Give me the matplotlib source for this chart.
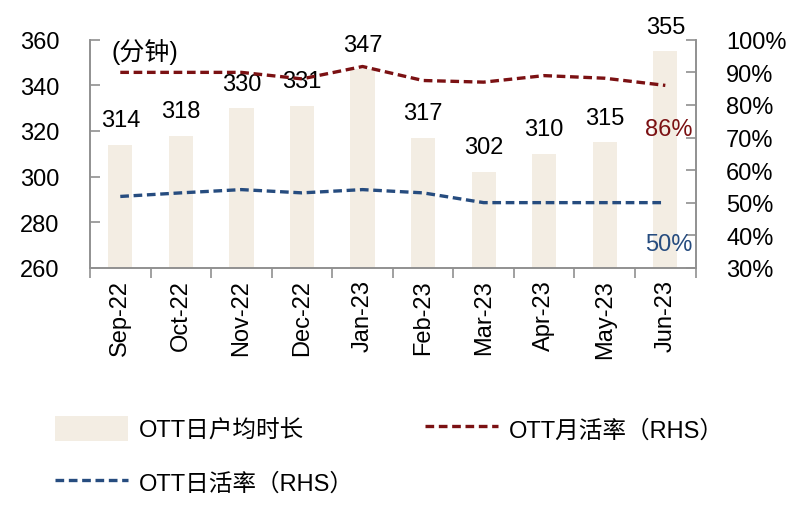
import numpy as np
import matplotlib.pyplot as plt
from matplotlib.ticker import FuncFormatter, FixedLocator

plt.rcParams['font.family'] = ['Liberation Sans', 'Noto Sans CJK SC', 'DejaVu Sans']

months = ['Sep-22', 'Oct-22', 'Nov-22', 'Dec-22', 'Jan-23', 'Feb-23',
          'Mar-23', 'Apr-23', 'May-23', 'Jun-23']
minutes = [314, 318, 330, 331, 347, 317, 302, 310, 315, 355]
mau_rate = [90, 90, 90, 88, 91.8, 87.5, 87, 89, 88.2, 86]
dau_rate = [51.9, 53, 54, 53, 54, 53, 50, 50, 50, 50]

bar_color = '#F3EDE3'
red = '#7B1113'
blue = '#264C7F'
spine_gray = '#909090'
fs = 17

fig = plt.figure(figsize=(8, 5.1), dpi=100)
ax = fig.add_axes([0.1125, 0.473, 0.757, 0.447])
ax2 = ax.twinx()

x = np.arange(len(months))
bars = ax.bar(x, minutes, width=0.4, color=bar_color, label='OTT日户均时长', zorder=1)
for xi, v in zip(x, minutes):
    ax.text(xi, v + 6, str(v), ha='center', va='bottom', fontsize=fs)

l1, = ax2.plot(x, mau_rate, color=red, lw=2.4, dashes=(2.6, 1.4), label='OTT月活率（RHS）')
l2, = ax2.plot(x, dau_rate, color=blue, lw=2.4, dashes=(2.6, 1.4), label='OTT日活率（RHS）')

ax.set_xlim(-0.5, 9.5)
ax.set_ylim(260, 360)
ax.set_yticks(np.arange(260, 361, 20))
ax2.set_ylim(30, 100)
ax2.set_yticks(np.arange(30, 101, 10))
ax2.yaxis.set_major_formatter(FuncFormatter(lambda v, p: f'{int(v)}%'))

ax.set_xticks(x)
ax.set_xticklabels(months, rotation=90, fontsize=fs)
ax.xaxis.set_minor_locator(FixedLocator(np.arange(-0.5, 10, 1)))
ax.tick_params(axis='x', which='major', length=0, pad=8)
ax.tick_params(axis='x', which='minor', length=7, direction='out', color=spine_gray, width=1.2)
ax.tick_params(axis='y', direction='in', length=7, color=spine_gray, width=1.2, labelsize=fs, pad=22)
ax2.tick_params(axis='y', direction='in', length=7, color=spine_gray, width=1.2, labelsize=fs, pad=22)

for a in (ax, ax2):
    a.spines['top'].set_visible(False)
    for s in ('left', 'right', 'bottom'):
        a.spines[s].set_color(spine_gray)
        a.spines[s].set_linewidth(1.2)

ax.set_zorder(ax2.get_zorder() - 1)
ax2.patch.set_visible(False)

ax.text(0.035, 0.95, '(分钟)', transform=ax.transAxes, fontsize=18, ha='left', va='center')
ax2.text(9.45, 72.7, f'{int(mau_rate[-1])}%', color=red, fontsize=fs, ha='right', va='center')
ax2.text(9.45, 37.4, f'{int(dau_rate[-1])}%', color=blue, fontsize=fs, ha='right', va='center')

fig.legend([bars, l2, l1], [bars.get_label(), l2.get_label(), l1.get_label()],
           loc='upper left', bbox_to_anchor=(0.057, 0.2), ncol=2, frameon=False,
           fontsize=fs, handlelength=3.1, handleheight=1.2, handletextpad=0.45,
           columnspacing=3.0, labelspacing=1.2, borderaxespad=0)

fig.savefig('out.png', dpi=100)
